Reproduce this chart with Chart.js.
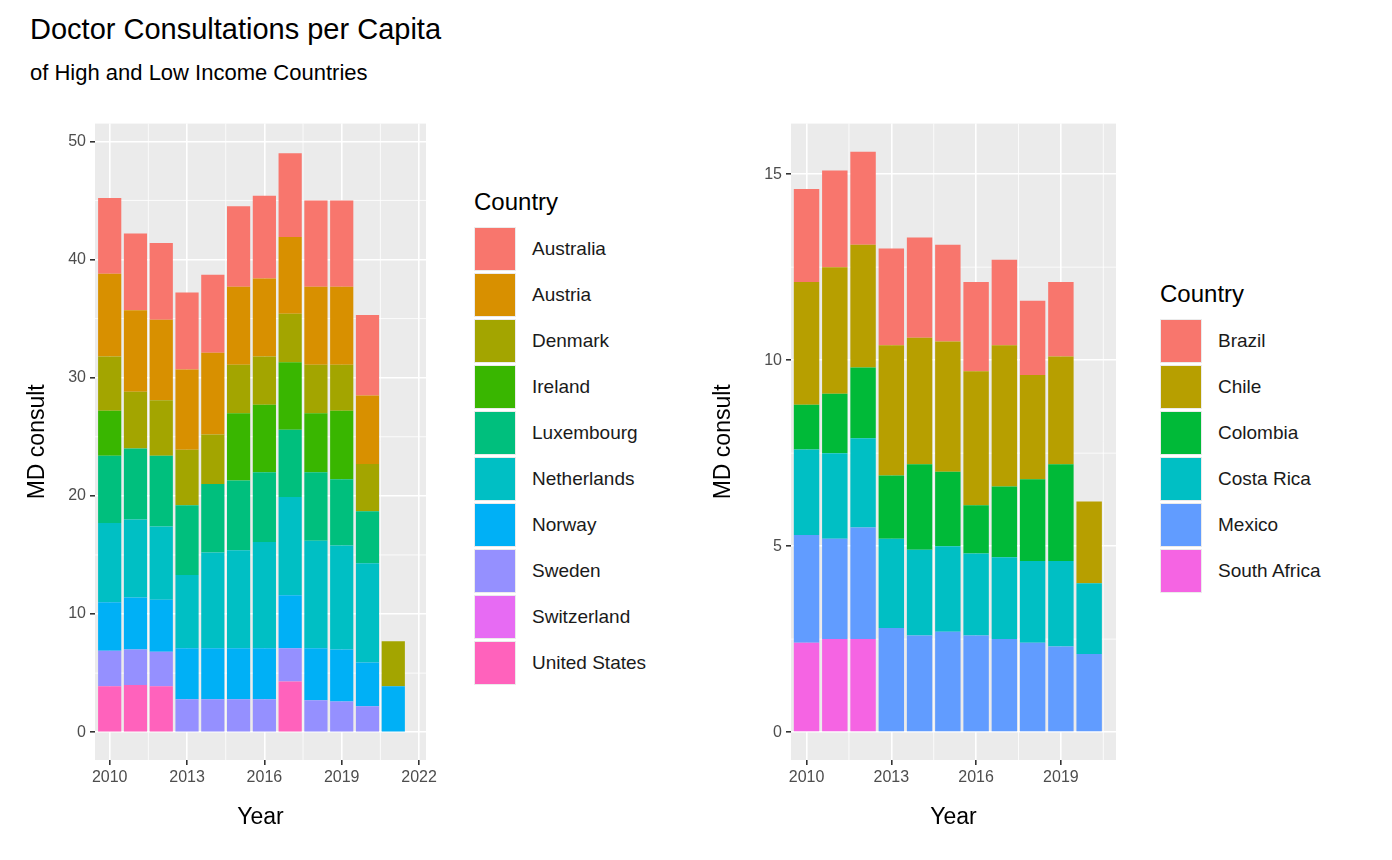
<!DOCTYPE html>
<html>
<head>
<meta charset="utf-8">
<script src="https://cdn.jsdelivr.net/npm/chart.js@4"></script>
<style>
  body { margin:0; width:1392px; height:860px; background:#fff; font-family:Arial,"Liberation Sans",sans-serif; position:relative; overflow:hidden; }
  .title { position:absolute; left:30px; top:13px; font-size:29px; color:#000; }
  .subtitle { position:absolute; left:30px; top:60px; font-size:22px; color:#000; }
  .cv { position:absolute; }
  .legend { position:absolute; font-size:19px; color:#1a1a1a; }
  .legend h4 { margin:0 0 10px 0; font-weight:normal; font-size:24px; color:#000; }
  .item { display:flex; align-items:center; height:46px; }
  .key { width:42px; height:44px; background:#ebebeb; display:flex; align-items:center; justify-content:center; margin-right:16px; }
  .key span { display:block; width:40px; height:42px; }
</style>
</head>
<body>
<div class="title">Doctor Consultations per Capita</div>
<div class="subtitle">of High and Low Income Countries</div>
<canvas id="left" class="cv" style="left:20px;top:110px;" width="420" height="725"></canvas>
<canvas id="right" class="cv" style="left:706px;top:110px;" width="420" height="725"></canvas>
<div id="legLeft" class="legend" style="left:474px;top:188px;"></div>
<div id="legRight" class="legend" style="left:1160px;top:280px;"></div>
<script>
// ---------- data ----------
const yearsHigh = [2010, 2011, 2012, 2013, 2014, 2015, 2016, 2017, 2018, 2019, 2020, 2021];
const countriesHigh = ['Australia', 'Austria', 'Denmark', 'Ireland', 'Luxembourg', 'Netherlands', 'Norway', 'Sweden', 'Switzerland', 'United States'];
const colorsHigh = ['#F8766D', '#D89000', '#A3A500', '#39B600', '#00BF7D', '#00BFC4', '#00B0F6', '#9590FF', '#E76BF3', '#FF62BC'];
const australia   = [6.4, 6.5, 6.5, 6.5, 6.6, 6.8, 7.0, 7.1, 7.3, 7.3, 6.8, null];
const austria     = [7.0, 6.9, 6.8, 6.8, 6.9, 6.6, 6.6, 6.5, 6.6, 6.6, 5.8, null];
const denmark     = [4.6, 4.8, 4.7, 4.7, 4.2, 4.1, 4.1, 4.1, 4.1, 3.9, 4.0, 3.8];
const ireland     = [3.8, null, null, null, null, 5.7, 5.7, 5.7, 5.0, 5.8, null, null];
const luxembourg  = [5.7, 6.0, 6.0, 5.9, 5.8, 5.9, 5.9, 5.7, 5.8, 5.6, 4.4, null];
const netherlands = [6.7, 6.6, 6.2, 6.2, 8.1, 8.3, 9.0, 8.3, 9.1, 8.8, 8.4, null];
const norway      = [4.1, 4.4, 4.4, 4.3, 4.3, 4.3, 4.3, 4.5, 4.4, 4.4, 3.7, 3.9];
const sweden      = [3.0, 3.0, 2.9, 2.8, 2.8, 2.8, 2.8, 2.8, 2.7, 2.6, 2.2, null];
const switzerland = [null, null, null, null, null, null, null, null, null, null, null, null];
const unitedStates= [3.9, 4.0, 3.9, null, null, null, null, 4.3, null, null, null, null];
const valuesHigh = [australia, austria, denmark, ireland, luxembourg, netherlands, norway, sweden, switzerland, unitedStates];

const yearsLow = [2010, 2011, 2012, 2013, 2014, 2015, 2016, 2017, 2018, 2019, 2020];
const countriesLow = ['Brazil', 'Chile', 'Colombia', 'Costa Rica', 'Mexico', 'South Africa'];
const colorsLow = ['#F8766D', '#B79F00', '#00BA38', '#00BFC4', '#619CFF', '#F564E3'];
const brazil      = [2.5, 2.6, 2.5, 2.6, 2.7, 2.6, 2.4, 2.3, 2.0, 2.0, null];
const chile       = [3.3, 3.4, 3.3, 3.5, 3.4, 3.5, 3.6, 3.8, 2.8, 2.9, 2.2];
const colombia    = [1.2, 1.6, 1.9, 1.7, 2.3, 2.0, 1.3, 1.9, 2.2, 2.6, null];
const costaRica   = [2.3, 2.3, 2.4, 2.4, 2.3, 2.3, 2.2, 2.2, 2.2, 2.3, 1.9];
const mexico      = [2.9, 2.7, 3.0, 2.8, 2.6, 2.7, 2.6, 2.5, 2.4, 2.3, 2.1];
const southAfrica = [2.4, 2.5, 2.5, null, null, null, null, null, null, null, null];
const valuesLow = [brazil, chile, colombia, costaRica, mexico, southAfrica];

// ---------- helpers ----------
const panelPlugin = {
  id: 'panel',
  beforeDraw(chart, args, opts) {
    const a = chart.chartArea, ctx = chart.ctx;
    ctx.save();
    ctx.fillStyle = '#EBEBEB';
    ctx.fillRect(a.left, a.top, a.right - a.left, a.bottom - a.top);
    ctx.restore();
  },
  beforeDatasetsDraw(chart, args, opts) {
    const a = chart.chartArea, ctx = chart.ctx;
    const xs = chart.scales.x, ys = chart.scales.y;
    ctx.save();
    ctx.strokeStyle = '#fff';
    ctx.lineWidth = 0.8;
    opts.minorX.forEach(v => {
      const p = xs.getPixelForValue(v);
      ctx.beginPath(); ctx.moveTo(p, a.top); ctx.lineTo(p, a.bottom); ctx.stroke();
    });
    opts.minorY.forEach(v => {
      const p = ys.getPixelForValue(v);
      ctx.beginPath(); ctx.moveTo(a.left, p); ctx.lineTo(a.right, p); ctx.stroke();
    });
    ctx.restore();
  }
};

function makeChart(id, years, names, colors, values, o) {
  // first dataset is drawn at the bottom of the stack, so reverse
  const datasets = names.map((n, i) => ({
    label: n,
    data: years.map((yr, j) => ({ x: yr, y: values[i][j] })),
    backgroundColor: colors[i],
    borderWidth: 0,
    barPercentage: 0.9,
    categoryPercentage: 1
  })).reverse();

  return new Chart(document.getElementById(id), {
    type: 'bar',
    data: { datasets: datasets },
    options: {
      responsive: false,
      animation: false,
      layout: { padding: { top: 8, right: o.padRight } },
      plugins: {
        legend: { display: false },
        tooltip: { enabled: false },
        panel: { minorX: o.minorX, minorY: o.minorY }
      },
      scales: {
        x: {
          type: 'linear', stacked: true, offset: false, min: o.xMin, max: o.xMax,
          afterBuildTicks: s => { s.ticks = o.xTicks.map(v => ({ value: v })); },
          afterFit: s => { s.height = 75; },
          grid: { offset: false, color: '#fff', lineWidth: 1.6, drawTicks: true, tickLength: 5, tickColor: '#333' },
          border: { display: false },
          ticks: { color: '#4D4D4D', font: { size: 16, family: 'Arial' }, maxRotation: 0, padding: 3, callback: v => v },
          title: { display: true, text: 'Year', color: '#000', font: { size: 23, family: 'Arial' }, padding: { top: 0 } }
        },
        y: {
          stacked: true, min: o.yMin, max: o.yMax,
          afterBuildTicks: s => { s.ticks = o.yTicks.map(v => ({ value: v })); },
          afterFit: s => { s.width = o.yWidth; },
          grid: { color: '#fff', lineWidth: 1.6, tickLength: 5, tickColor: '#333' },
          border: { display: false },
          ticks: { color: '#4D4D4D', font: { size: 16, family: 'Arial' }, padding: 4 },
          title: { display: true, text: 'MD consult', color: '#000', font: { size: 23, family: 'Arial' } }
        }
      }
    },
    plugins: [panelPlugin]
  });
}

function makeLegend(id, names, colors) {
  let html = '<h4>Country</h4>';
  names.forEach((n, i) => {
    html += '<div class="item"><div class="key"><span style="background:' + colors[i] + '"></span></div>' + n + '</div>';
  });
  document.getElementById(id).innerHTML = html;
}

makeChart('left', yearsHigh, countriesHigh, colorsHigh, valuesHigh, {
  xMin: 2009.43, xMax: 2022.27, xTicks: [2010, 2013, 2016, 2019, 2022],
  minorX: [2011.5, 2014.5, 2017.5, 2020.5],
  yMin: -2.35, yMax: 51.5, yTicks: [0, 10, 20, 30, 40, 50], minorY: [5, 15, 25, 35, 45],
  yWidth: 75, padRight: 7
});
makeChart('right', yearsLow, countriesLow, colorsLow, valuesLow, {
  xMin: 2009.45, xMax: 2020.95, xTicks: [2010, 2013, 2016, 2019],
  minorX: [2011.5, 2014.5, 2017.5, 2020.5],
  yMin: -0.75, yMax: 16.36, yTicks: [0, 5, 10, 15], minorY: [2.5, 7.5, 12.5],
  yWidth: 85, padRight: 10
});
makeLegend('legLeft', countriesHigh, colorsHigh);
makeLegend('legRight', countriesLow, colorsLow);
</script>
</body>
</html>
